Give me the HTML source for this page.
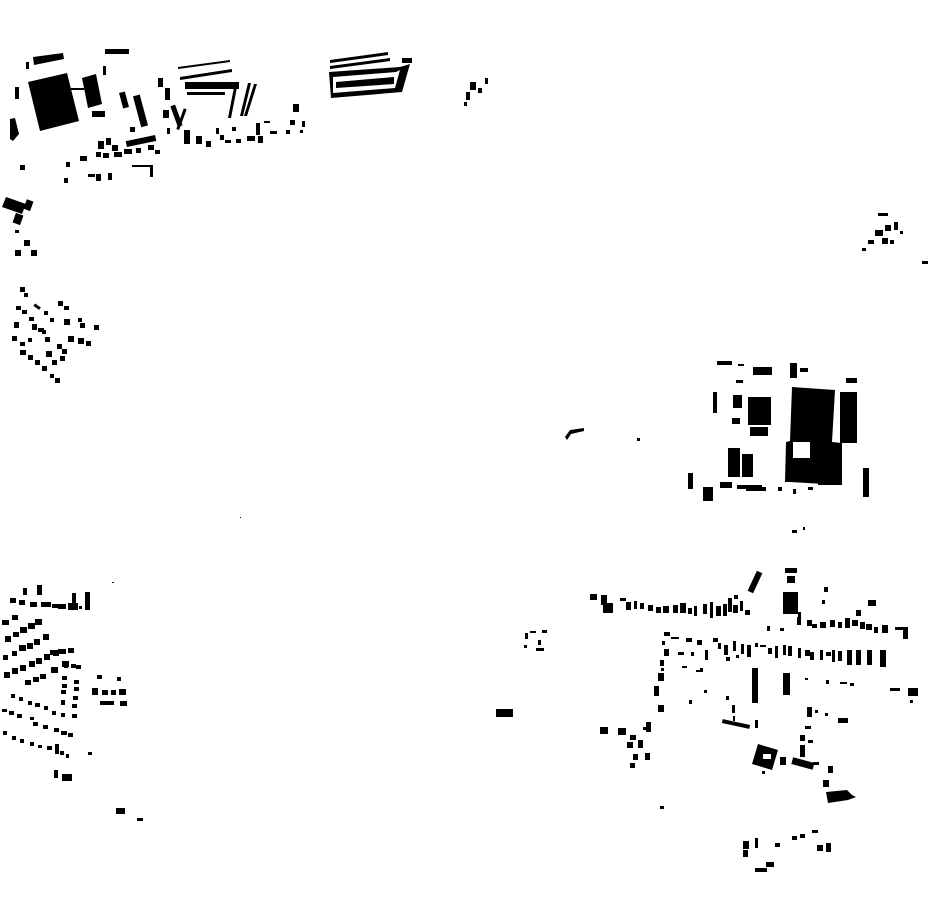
<!DOCTYPE html>
<html><head><meta charset="utf-8"><style>html,body{margin:0;padding:0;background:#fff}svg{display:block}</style></head>
<body>
<svg width="930" height="924" viewBox="0 0 930 924" xmlns="http://www.w3.org/2000/svg" fill="#000">
<!-- top-left industrial -->
<polygon points="28,82 67,73 79,121 40,131"/>
<polygon points="82,78 96,74 102,104 88,108"/>
<polygon points="33,57 63,53 64,59 34,65"/>
<rect x="105" y="49" width="24" height="5"/>
<rect x="26" y="62" width="3" height="7"/>
<rect x="15" y="87" width="4" height="12"/>
<polygon points="10,119 15,118 19,134 13,141 10,139"/>
<rect x="103" y="66" width="3" height="9"/>
<rect x="92" y="111" width="13" height="6"/>
<rect x="71" y="88" width="13" height="2"/>
<rect x="121" y="92" width="6" height="16" transform="rotate(-15 124 100)"/>
<rect x="137" y="95" width="7" height="32" transform="rotate(-15 140 111)"/>
<rect x="130" y="127" width="5" height="5"/>
<rect x="126" y="138" width="30" height="6" transform="rotate(-12 141 141)"/>
<rect x="158" y="78" width="5" height="9"/>
<rect x="165" y="88" width="5" height="12"/>
<rect x="174" y="105" width="5" height="22" transform="rotate(-20 176 116)"/>
<rect x="180" y="108" width="3" height="22" transform="rotate(20 181 119)"/>
<polygon points="178,67 230,60 230,62 178,69"/>
<polygon points="180,77 232,69 232,72 180,80"/>
<rect x="185" y="82" width="54" height="7"/>
<rect x="187" y="92" width="38" height="3"/>
<polygon points="235,82 238,82 231,118 228,118"/>
<polygon points="248,83 251,83 243,116 240,116"/>
<polygon points="254,84 257,84 247,116 244,116"/>
<polygon points="330,60 388,52 388,55 330,63"/>
<polygon points="330,66 390,58 390,61 330,69"/>
<polygon points="329,72 400,67 410,64 402,92 331,98"/>
<polygon fill="#fff" points="333,77 396,72 400,70 395,88 333,93"/>
<polygon points="336,82 394,77 394,84 336,88"/>
<rect x="402" y="58" width="10" height="5"/>
<!-- small scatter top -->
<g>
<rect x="98" y="141" width="6" height="8"/><rect x="106" y="138" width="5" height="7"/><rect x="112" y="145" width="6" height="6"/>
<rect x="96" y="152" width="5" height="5"/><rect x="80" y="156" width="7" height="5"/><rect x="66" y="162" width="4" height="5"/>
<rect x="103" y="153" width="6" height="5"/><rect x="114" y="152" width="8" height="5"/><rect x="124" y="149" width="8" height="5"/>
<rect x="136" y="148" width="5" height="5"/><rect x="148" y="145" width="6" height="5"/><rect x="155" y="150" width="5" height="4"/>
<rect x="64" y="178" width="4" height="5"/><rect x="88" y="174" width="7" height="3"/><rect x="96" y="174" width="5" height="7"/>
<rect x="108" y="173" width="4" height="7"/><rect x="132" y="165" width="20" height="2"/><rect x="150" y="165" width="3" height="12"/>
<rect x="20" y="165" width="5" height="5"/>
<rect x="163" y="110" width="6" height="8"/><rect x="167" y="128" width="3" height="6"/><rect x="184" y="130" width="6" height="14"/>
<rect x="196" y="136" width="6" height="8"/><rect x="206" y="141" width="5" height="6"/><rect x="216" y="128" width="3" height="6"/>
<rect x="220" y="135" width="4" height="5"/><rect x="225" y="140" width="6" height="3"/><rect x="236" y="139" width="5" height="4"/>
<rect x="247" y="136" width="8" height="5"/><rect x="258" y="136" width="5" height="7"/><rect x="256" y="123" width="4" height="12"/>
<rect x="264" y="121" width="6" height="2"/><rect x="270" y="131" width="7" height="3"/><rect x="293" y="104" width="6" height="8"/>
<rect x="290" y="120" width="5" height="5"/><rect x="286" y="130" width="4" height="4"/><rect x="302" y="121" width="3" height="6"/>
<rect x="300" y="130" width="3" height="3"/><rect x="232" y="127" width="4" height="4"/>
</g>
<!-- small top-center -->
<rect x="470" y="82" width="6" height="8"/><rect x="466" y="92" width="4" height="8"/><rect x="478" y="88" width="4" height="5"/><rect x="485" y="78" width="3" height="6"/><rect x="464" y="102" width="3" height="4"/>
<!-- left group -->
<polygon points="6,197 26,204 22,214 2,207"/>
<rect x="25" y="200" width="7" height="10" transform="rotate(20 28 205)"/>
<rect x="14" y="214" width="8" height="10" transform="rotate(20 18 219)"/>
<rect x="15" y="230" width="4" height="3"/><rect x="24" y="240" width="6" height="6"/><rect x="15" y="250" width="6" height="6"/><rect x="31" y="250" width="6" height="6"/>
<!-- diamond village -->
<g>
<rect x="20" y="287" width="5" height="5"/><rect x="24" y="293" width="4" height="4"/><rect x="16" y="306" width="5" height="4"/><rect x="22" y="310" width="5" height="4"/><rect x="34" y="305" width="7" height="3" transform="rotate(35 37 306)"/>
<rect x="29" y="317" width="5" height="4"/><rect x="14" y="322" width="5" height="6"/><rect x="32" y="324" width="5" height="6"/><rect x="38" y="328" width="6" height="4"/>
<rect x="58" y="301" width="5" height="5"/><rect x="64" y="306" width="5" height="4"/><rect x="44" y="311" width="4" height="4"/><rect x="50" y="318" width="4" height="4"/>
<rect x="64" y="319" width="6" height="6"/><rect x="78" y="318" width="4" height="4"/><rect x="80" y="323" width="5" height="5"/><rect x="94" y="325" width="5" height="5"/>
<rect x="12" y="336" width="5" height="5"/><rect x="20" y="342" width="5" height="4"/><rect x="28" y="338" width="4" height="4"/><rect x="45" y="337" width="5" height="5"/>
<rect x="57" y="344" width="5" height="5"/><rect x="68" y="336" width="6" height="6"/><rect x="78" y="338" width="6" height="6"/><rect x="86" y="341" width="5" height="5"/>
<rect x="20" y="350" width="6" height="5"/><rect x="28" y="355" width="5" height="5"/><rect x="35" y="360" width="5" height="5"/><rect x="46" y="351" width="6" height="6"/>
<rect x="62" y="349" width="5" height="5"/><rect x="42" y="366" width="5" height="5"/><rect x="52" y="360" width="5" height="5"/><rect x="60" y="356" width="5" height="5"/>
<rect x="50" y="374" width="4" height="4"/><rect x="55" y="378" width="5" height="5"/><rect x="42" y="330" width="4" height="4"/>
</g>
<!-- far right small -->
<rect x="878" y="213" width="10" height="3"/><rect x="875" y="230" width="8" height="6"/><rect x="885" y="225" width="6" height="6"/><rect x="882" y="238" width="6" height="6"/><rect x="868" y="240" width="6" height="4"/><rect x="862" y="248" width="4" height="3"/><rect x="894" y="222" width="4" height="8"/><rect x="890" y="240" width="4" height="4"/><rect x="922" y="261" width="6" height="3"/><rect x="900" y="231" width="3" height="3"/>
<!-- mid misc -->
<polygon points="565,437 570,430 584,428 584,431 571,434 567,440"/>
<rect x="637" y="438" width="3" height="3"/><rect x="240" y="517" width="1" height="1"/>
<!-- factory right -->
<polygon points="792,387 835,390 832,442 842,443 842,485 790,482 785,482 786,442 790,441"/>
<rect x="793" y="442" width="17" height="16" fill="#fff"/>
<rect x="818" y="466" width="24" height="19"/>
<rect x="840" y="392" width="17" height="51"/>
<rect x="748" y="397" width="23" height="28"/>
<rect x="750" y="427" width="18" height="9"/>
<rect x="728" y="448" width="12" height="29"/><rect x="742" y="454" width="11" height="23"/>
<rect x="703" y="487" width="10" height="14"/>
<rect x="688" y="473" width="5" height="16"/>
<rect x="863" y="468" width="6" height="29"/>
<rect x="720" y="482" width="12" height="6"/><rect x="737" y="485" width="25" height="4"/><rect x="746" y="487" width="20" height="4"/><rect x="778" y="487" width="4" height="4"/><rect x="793" y="489" width="3" height="5"/><rect x="808" y="487" width="5" height="3"/>
<rect x="717" y="361" width="15" height="4"/><rect x="738" y="364" width="6" height="2"/><rect x="753" y="367" width="19" height="8"/><rect x="790" y="363" width="7" height="15"/><rect x="800" y="368" width="8" height="4"/><rect x="846" y="378" width="11" height="5"/>
<rect x="713" y="392" width="4" height="21"/><rect x="733" y="395" width="9" height="13"/><rect x="732" y="418" width="8" height="6"/><rect x="736" y="380" width="7" height="3"/>
<rect x="792" y="530" width="5" height="3"/><rect x="803" y="527" width="2" height="3"/>
<!-- lower right town -->
<g>
<rect x="752" y="571" width="6" height="22" transform="rotate(25 755 582)"/>
<rect x="785" y="568" width="12" height="5"/><rect x="787" y="576" width="8" height="7"/><rect x="783" y="592" width="15" height="22"/>
<rect x="824" y="587" width="4" height="5"/><rect x="822" y="600" width="3" height="4"/><rect x="868" y="600" width="8" height="6"/>
<rect x="590" y="594" width="7" height="6"/><rect x="601" y="595" width="6" height="10"/><rect x="603" y="603" width="10" height="10"/>
<rect x="620" y="598" width="6" height="3"/><rect x="626" y="602" width="5" height="8"/><rect x="634" y="601" width="3" height="8"/>
<rect x="640" y="603" width="4" height="6"/><rect x="648" y="605" width="5" height="6"/><rect x="656" y="607" width="5" height="6"/>
<rect x="663" y="606" width="6" height="7"/><rect x="673" y="605" width="5" height="8"/><rect x="680" y="603" width="6" height="10"/>
<rect x="688" y="608" width="4" height="6"/><rect x="694" y="606" width="3" height="10"/><rect x="703" y="604" width="4" height="10"/>
<rect x="710" y="602" width="3" height="16"/><rect x="716" y="606" width="5" height="10"/><rect x="723" y="604" width="4" height="12"/>
<rect x="728" y="598" width="4" height="14"/><rect x="733" y="605" width="5" height="8"/><rect x="740" y="601" width="3" height="10"/>
<rect x="745" y="610" width="5" height="5"/><rect x="734" y="595" width="4" height="4"/>
<rect x="797" y="617" width="4" height="8"/><rect x="807" y="620" width="5" height="6"/><rect x="812" y="624" width="5" height="4"/>
<rect x="820" y="622" width="6" height="6"/><rect x="830" y="620" width="5" height="7"/><rect x="838" y="622" width="4" height="6"/>
<rect x="845" y="618" width="5" height="10"/><rect x="852" y="620" width="6" height="6"/><rect x="860" y="622" width="5" height="7"/>
<rect x="866" y="624" width="6" height="6"/><rect x="874" y="627" width="4" height="6"/><rect x="882" y="625" width="6" height="8"/>
<rect x="895" y="627" width="10" height="3"/><rect x="903" y="627" width="5" height="12"/><rect x="856" y="610" width="5" height="6"/>
<rect x="798" y="612" width="3" height="5"/><rect x="767" y="626" width="3" height="5"/><rect x="780" y="628" width="4" height="3"/>
<rect x="664" y="632" width="6" height="4"/><rect x="671" y="637" width="8" height="2"/><rect x="686" y="638" width="6" height="4"/><rect x="697" y="640" width="5" height="5"/>
<rect x="662" y="641" width="3" height="4"/><rect x="664" y="649" width="5" height="7"/><rect x="678" y="652" width="6" height="3"/><rect x="691" y="652" width="3" height="4"/>
<rect x="705" y="650" width="3" height="10"/><rect x="713" y="638" width="5" height="4"/><rect x="718" y="643" width="3" height="6"/><rect x="724" y="645" width="4" height="10"/>
<rect x="733" y="641" width="3" height="10"/><rect x="741" y="644" width="3" height="10"/><rect x="747" y="645" width="4" height="12"/>
<rect x="755" y="643" width="3" height="4"/><rect x="760" y="645" width="6" height="2"/><rect x="768" y="648" width="4" height="6"/>
<rect x="775" y="646" width="3" height="12"/><rect x="783" y="645" width="3" height="10"/><rect x="788" y="646" width="4" height="10"/>
<rect x="798" y="648" width="3" height="10"/><rect x="805" y="650" width="5" height="6"/><rect x="810" y="652" width="4" height="8"/>
<rect x="820" y="650" width="3" height="10"/><rect x="826" y="652" width="5" height="4"/><rect x="832" y="650" width="3" height="12"/>
<rect x="838" y="651" width="4" height="10"/><rect x="847" y="650" width="5" height="15"/><rect x="856" y="650" width="5" height="15"/>
<rect x="867" y="650" width="5" height="15"/><rect x="880" y="650" width="6" height="17"/>
<rect x="660" y="660" width="4" height="6"/><rect x="661" y="668" width="3" height="3"/><rect x="658" y="673" width="6" height="8"/>
<rect x="654" y="686" width="5" height="10"/><rect x="658" y="705" width="6" height="7"/>
<rect x="682" y="666" width="5" height="2"/><rect x="696" y="670" width="4" height="2"/><rect x="700" y="668" width="3" height="4"/>
<rect x="752" y="668" width="6" height="35"/><rect x="783" y="673" width="7" height="22"/>
<rect x="726" y="657" width="4" height="4"/><rect x="736" y="655" width="3" height="3"/>
<rect x="805" y="678" width="3" height="2"/><rect x="826" y="680" width="3" height="4"/><rect x="840" y="682" width="7" height="2"/><rect x="850" y="683" width="4" height="3"/>
<rect x="890" y="688" width="10" height="3"/><rect x="908" y="688" width="10" height="8"/><rect x="910" y="700" width="3" height="3"/>
<rect x="704" y="690" width="3" height="3"/><rect x="689" y="700" width="3" height="4"/>
<rect x="726" y="696" width="3" height="4"/><rect x="732" y="705" width="3" height="8"/><rect x="733" y="716" width="2" height="5"/>
<rect x="722" y="722" width="28" height="4" transform="rotate(12 736 724)"/><rect x="755" y="720" width="3" height="8"/>
<rect x="807" y="707" width="5" height="10"/><rect x="815" y="710" width="3" height="3"/><rect x="825" y="713" width="3" height="3"/><rect x="838" y="718" width="10" height="5"/>
<rect x="805" y="726" width="6" height="3"/><rect x="800" y="735" width="5" height="6"/><rect x="800" y="745" width="5" height="12"/><rect x="808" y="740" width="5" height="3"/>
<rect x="813" y="762" width="6" height="3"/>
<polygon points="758,744 778,750 772,770 752,764"/>
<rect x="763" y="754" width="8" height="5" fill="#fff"/>
<rect x="780" y="757" width="6" height="8"/>
<rect x="792" y="760" width="22" height="7" transform="rotate(15 803 763)"/>
<rect x="828" y="766" width="5" height="7"/><rect x="823" y="780" width="6" height="7"/>
<polygon points="826,792 847,790 852,795 856,797 848,800 828,803"/>
<rect x="762" y="771" width="3" height="3"/>
<rect x="600" y="727" width="8" height="7"/><rect x="618" y="728" width="8" height="7"/><rect x="630" y="735" width="6" height="5"/><rect x="643" y="727" width="5" height="3"/><rect x="646" y="722" width="5" height="10"/>
<rect x="627" y="742" width="6" height="6"/><rect x="638" y="740" width="5" height="8"/><rect x="633" y="754" width="5" height="6"/><rect x="645" y="753" width="5" height="7"/>
<rect x="630" y="763" width="5" height="5"/><rect x="660" y="806" width="4" height="3"/>
<rect x="525" y="633" width="3" height="6"/><rect x="530" y="631" width="6" height="2"/><rect x="542" y="630" width="5" height="3"/><rect x="538" y="640" width="3" height="5"/><rect x="524" y="645" width="3" height="3"/><rect x="536" y="648" width="8" height="3"/>
<rect x="496" y="709" width="17" height="8"/>
<rect x="743" y="841" width="6" height="8"/><rect x="743" y="850" width="5" height="7"/><rect x="755" y="838" width="3" height="10"/><rect x="775" y="843" width="5" height="4"/><rect x="792" y="836" width="5" height="4"/><rect x="800" y="834" width="5" height="4"/><rect x="812" y="830" width="6" height="3"/><rect x="817" y="845" width="6" height="6"/><rect x="826" y="843" width="5" height="9"/><rect x="766" y="862" width="8" height="5"/><rect x="755" y="868" width="12" height="4"/>
</g>
<!-- lower left village -->
<g>
<rect x="23" y="588" width="4" height="7"/><rect x="37" y="585" width="5" height="10"/><rect x="10" y="598" width="6" height="5"/><rect x="19" y="600" width="6" height="5"/>
<rect x="30" y="602" width="7" height="5"/><rect x="41" y="602" width="10" height="5"/><rect x="52" y="604" width="6" height="4"/><rect x="58" y="604" width="8" height="5"/>
<rect x="68" y="603" width="10" height="7"/><rect x="72" y="593" width="4" height="10"/><rect x="79" y="606" width="3" height="3"/><rect x="85" y="592" width="5" height="18"/>
<rect x="2" y="620" width="7" height="5"/><rect x="12" y="615" width="6" height="5"/><rect x="5" y="636" width="6" height="6"/><rect x="13" y="632" width="6" height="5"/>
<rect x="20" y="627" width="7" height="6"/><rect x="28" y="623" width="7" height="6"/><rect x="35" y="619" width="7" height="6"/>
<rect x="3" y="655" width="5" height="5"/><rect x="12" y="651" width="5" height="5"/><rect x="19" y="645" width="7" height="6"/><rect x="27" y="643" width="6" height="6"/>
<rect x="34" y="639" width="6" height="6"/><rect x="43" y="634" width="6" height="6"/><rect x="50" y="650" width="8" height="5"/><rect x="58" y="649" width="8" height="5"/><rect x="68" y="648" width="6" height="5"/>
<rect x="4" y="672" width="6" height="6"/><rect x="12" y="668" width="6" height="6"/><rect x="20" y="665" width="6" height="6"/><rect x="29" y="661" width="6" height="6"/>
<rect x="36" y="658" width="6" height="6"/><rect x="44" y="654" width="6" height="6"/><rect x="53" y="650" width="6" height="6"/>
<rect x="25" y="680" width="6" height="5"/><rect x="33" y="677" width="6" height="5"/><rect x="40" y="674" width="6" height="5"/><rect x="51" y="667" width="7" height="6"/>
<rect x="62" y="661" width="7" height="6"/><rect x="64" y="663" width="4" height="5"/><rect x="71" y="664" width="5" height="4"/><rect x="76" y="665" width="5" height="4"/>
<rect x="62" y="676" width="5" height="4"/><rect x="62" y="684" width="5" height="4"/><rect x="61" y="690" width="5" height="4"/><rect x="61" y="700" width="4" height="5"/>
<rect x="74" y="680" width="5" height="4"/><rect x="74" y="687" width="5" height="4"/><rect x="73" y="696" width="5" height="4"/><rect x="72" y="704" width="5" height="4"/><rect x="72" y="714" width="5" height="4"/>
<rect x="11" y="694" width="4" height="4"/><rect x="19" y="697" width="4" height="4"/><rect x="28" y="701" width="4" height="4"/><rect x="35" y="703" width="5" height="4"/>
<rect x="44" y="706" width="4" height="4"/><rect x="52" y="711" width="4" height="4"/><rect x="61" y="713" width="4" height="4"/>
<rect x="2" y="709" width="5" height="3"/><rect x="9" y="711" width="5" height="4"/><rect x="17" y="714" width="5" height="4"/><rect x="30" y="717" width="4" height="3"/>
<rect x="33" y="722" width="5" height="4"/><rect x="43" y="725" width="5" height="4"/><rect x="54" y="728" width="5" height="4"/><rect x="61" y="731" width="6" height="4"/><rect x="68" y="733" width="5" height="4"/>
<rect x="3" y="731" width="4" height="4"/><rect x="12" y="736" width="4" height="4"/><rect x="20" y="739" width="4" height="4"/><rect x="30" y="742" width="4" height="4"/>
<rect x="38" y="745" width="4" height="3"/><rect x="47" y="746" width="5" height="4"/><rect x="55" y="744" width="4" height="10"/><rect x="60" y="751" width="4" height="4"/><rect x="66" y="754" width="3" height="4"/>
<rect x="88" y="752" width="4" height="3"/><rect x="54" y="770" width="4" height="8"/><rect x="62" y="774" width="10" height="7"/>
<rect x="97" y="675" width="5" height="4"/><rect x="117" y="677" width="4" height="4"/><rect x="92" y="688" width="6" height="7"/><rect x="102" y="690" width="6" height="5"/>
<rect x="111" y="690" width="5" height="5"/><rect x="119" y="689" width="7" height="6"/><rect x="100" y="701" width="14" height="4"/><rect x="120" y="701" width="7" height="5"/>
<rect x="116" y="808" width="9" height="6"/><rect x="137" y="818" width="6" height="3"/><rect x="112" y="582" width="2" height="1"/>
</g>
</svg>
</body></html>
